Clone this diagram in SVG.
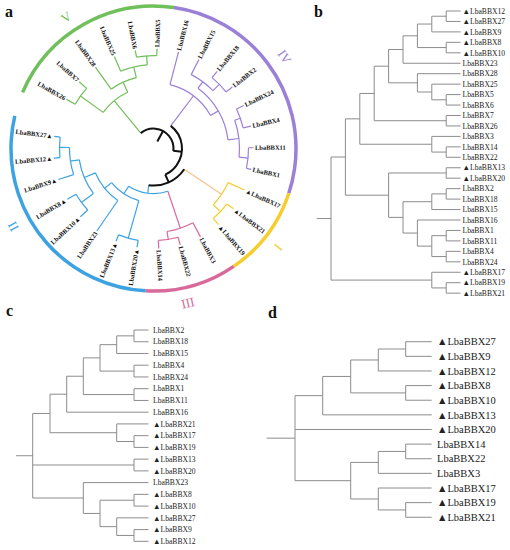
<svg xmlns="http://www.w3.org/2000/svg" width="510" height="550" viewBox="0 0 510 550">
<style>
.br{fill:none;stroke-width:1.2}
.gr{stroke:#6fbf5a}.pu{stroke:#9b80d8}.ye{stroke:#f6cd2b}.pe{stroke:#f9c28c}.pk{stroke:#d9699a}.bl{stroke:#3da2e2}.bk{stroke:#111;stroke-width:2}
.ring{fill:none;stroke-width:3.5}
.al{font-family:"Liberation Serif","DejaVu Serif",serif;font-weight:bold;font-size:6.5px;fill:#111}
.num{font-family:"Liberation Serif","DejaVu Serif",serif;font-size:13px;text-anchor:middle}
.pl{font-family:"Liberation Serif","DejaVu Serif",serif;font-weight:bold;font-size:16px;fill:#111}
.rt{fill:none;stroke:#8c8c8c;stroke-width:1}
.lb{font-family:"Liberation Serif","DejaVu Serif",serif;font-size:7.6px;fill:#222}
.ld{font-family:"Liberation Serif","DejaVu Serif",serif;font-size:10.5px;fill:#222}
</style>
<rect width="510" height="550" fill="#fff"/>
<g id="panel-letters">
<text class="pl" x="5" y="17">a</text>
<text class="pl" x="314" y="17">b</text>
<text class="pl" x="6" y="316">c</text>
<text class="pl" x="268" y="318">d</text>
</g>
<g id="panel-a" transform="translate(153.5,148.6)">
<g id="a-rings">
<circle class="ring" r="142.5" stroke="#6fbf5a" stroke-dasharray="186.53 2000" transform="rotate(-156.75)"/>
<circle class="ring" r="142.5" stroke="#9b80d8" stroke-dasharray="248.71 2000" transform="rotate(-81.75)"/>
<circle class="ring" r="142.5" stroke="#f6cd2b" stroke-dasharray="93.27 2000" transform="rotate(18.25)"/>
<circle class="ring" r="142.5" stroke="#d9699a" stroke-dasharray="93.27 2000" transform="rotate(55.75)"/>
<circle class="ring" r="142.5" stroke="#3da2e2" stroke-dasharray="248.71 2000" transform="rotate(93.25)"/>
</g>
<g id="a-clade-labels">
<text class="num" fill="#6fbf5a" dy="0.35em" transform="rotate(-123.6) translate(158 0) rotate(90)">V</text>
<text class="num" fill="#9b80d8" dy="0.35em" transform="rotate(-35) translate(160 0) rotate(90)">IV</text>
<text class="num" fill="#f6cd2b" dy="0.35em" transform="rotate(38.3) translate(158.7 0) rotate(-90)">I</text>
<text class="num" fill="#d9699a" dy="0.35em" transform="rotate(77.4) translate(158 0) rotate(-90)">III</text>
<text class="num" fill="#3da2e2" dy="0.35em" transform="rotate(151) translate(160 0) rotate(-90)">II</text>
</g>
<g id="a-connectors">
<g class="br gr">
<path d="M93 0H100" transform="rotate(-88)"/>
<path d="M93 0H100" transform="rotate(-100.5)"/>
<path d="M84 0H93" transform="rotate(-94.25)"/>
<path d="M84 0H100" transform="rotate(-113)"/>
<path d="M73 0H84" transform="rotate(-103.625)"/>
<path d="M73 0H100" transform="rotate(-125.5)"/>
<path d="M62 0H73" transform="rotate(-114.5625)"/>
<path d="M90 0H100" transform="rotate(-138)"/>
<path d="M90 0H100" transform="rotate(-150.5)"/>
<path d="M62 0H90" transform="rotate(-144.25)"/>
<path d="M20 0H62" transform="rotate(-129.41)"/>
<circle r="93" stroke-dasharray="20.29 2000" transform="rotate(-100.5)"/>
<circle r="84" stroke-dasharray="27.49 2000" transform="rotate(-113)"/>
<circle r="73" stroke-dasharray="27.87 2000" transform="rotate(-125.5)"/>
<circle r="90" stroke-dasharray="19.63 2000" transform="rotate(-150.5)"/>
<circle r="62" stroke-dasharray="32.12 2000" transform="rotate(-144.25)"/>
</g>
<g class="br pu">
<path d="M92 0H100" transform="rotate(-38)"/>
<path d="M92 0H100" transform="rotate(-50.5)"/>
<path d="M83 0H92" transform="rotate(-44.25)"/>
<path d="M83 0H100" transform="rotate(-63)"/>
<path d="M75 0H83" transform="rotate(-53.625)"/>
<path d="M92 0H100" transform="rotate(-13)"/>
<path d="M92 0H100" transform="rotate(-25.5)"/>
<path d="M86 0H92" transform="rotate(-19.25)"/>
<path d="M95 0H100" transform="rotate(12)"/>
<path d="M95 0H100" transform="rotate(-0.5)"/>
<path d="M86 0H95" transform="rotate(5.75)"/>
<path d="M75 0H86" transform="rotate(-6.75)"/>
<path d="M66 0H75" transform="rotate(-30.1875)"/>
<path d="M66 0H100" transform="rotate(-75.5)"/>
<path d="M28.5 0H66" transform="rotate(-52.84)"/>
<circle r="92" stroke-dasharray="20.07 2000" transform="rotate(-50.5)"/>
<circle r="83" stroke-dasharray="27.16 2000" transform="rotate(-63)"/>
<circle r="92" stroke-dasharray="20.07 2000" transform="rotate(-25.5)"/>
<circle r="95" stroke-dasharray="20.73 2000" transform="rotate(-0.5)"/>
<circle r="86" stroke-dasharray="37.52 2000" transform="rotate(-19.25)"/>
<circle r="75" stroke-dasharray="61.36 2000" transform="rotate(-53.625)"/>
<circle r="66" stroke-dasharray="52.20 2000" transform="rotate(-75.5)"/>
</g>
<g class="br ye">
<path d="M92 0H100" transform="rotate(49.5)"/>
<path d="M92 0H100" transform="rotate(37)"/>
<path d="M82 0H92" transform="rotate(43.25)"/>
<path d="M82 0H100" transform="rotate(24.5)"/>
<circle r="92" stroke-dasharray="20.07 2000" transform="rotate(37)"/>
<circle r="82" stroke-dasharray="26.83 2000" transform="rotate(24.5)"/>
</g>
<path class="br pe" d="M37 0H82" transform="rotate(33.875)"/>
<g class="br pk">
<path d="M92 0H100" transform="rotate(87)"/>
<path d="M92 0H100" transform="rotate(74.5)"/>
<path d="M84 0H92" transform="rotate(80.75)"/>
<path d="M84 0H100" transform="rotate(62)"/>
<path d="M45 0H84" transform="rotate(71.375)"/>
<circle r="92" stroke-dasharray="20.07 2000" transform="rotate(74.5)"/>
<circle r="84" stroke-dasharray="27.49 2000" transform="rotate(62)"/>
</g>
<g class="br bl">
<path d="M94 0H100" transform="rotate(187)"/>
<path d="M94 0H100" transform="rotate(174.5)"/>
<path d="M84 0H94" transform="rotate(180.75)"/>
<path d="M84 0H100" transform="rotate(162)"/>
<path d="M75 0H84" transform="rotate(171.375)"/>
<path d="M90 0H100" transform="rotate(149.5)"/>
<path d="M90 0H100" transform="rotate(137)"/>
<path d="M75 0H90" transform="rotate(143.25)"/>
<path d="M63 0H75" transform="rotate(157.3125)"/>
<path d="M63 0H100" transform="rotate(124.5)"/>
<path d="M54 0H63" transform="rotate(140.906)"/>
<path d="M93 0H100" transform="rotate(112)"/>
<path d="M93 0H100" transform="rotate(99.5)"/>
<path d="M54 0H93" transform="rotate(105.75)"/>
<path d="M45 0H54" transform="rotate(123.328)"/>
<path d="M37 0H45" transform="rotate(97.35)"/>
<circle r="94" stroke-dasharray="20.51 2000" transform="rotate(174.5)"/>
<circle r="84" stroke-dasharray="27.49 2000" transform="rotate(162)"/>
<circle r="90" stroke-dasharray="19.63 2000" transform="rotate(137)"/>
<circle r="75" stroke-dasharray="36.82 2000" transform="rotate(143.25)"/>
<circle r="63" stroke-dasharray="36.08 2000" transform="rotate(124.5)"/>
<circle r="93" stroke-dasharray="20.29 2000" transform="rotate(99.5)"/>
<circle r="54" stroke-dasharray="33.13 2000" transform="rotate(105.75)"/>
<circle r="45" stroke-dasharray="40.80 2000" transform="rotate(71.375)"/>
</g>
<g class="br bk">
<path d="M28.5 0H37" transform="rotate(65.61)"/>
<path d="M20 0H28.5" transform="rotate(6.385)"/>
<path d="M8 0H20" transform="rotate(-61.51)"/>
<circle r="37" stroke-dasharray="40.99 2000" transform="rotate(33.875)"/>
<circle r="28.5" stroke-dasharray="58.92 2000" transform="rotate(-52.84)"/>
<circle r="20" stroke-dasharray="47.40 2000" transform="rotate(-129.41)"/>
</g>
</g>
<g id="a-leaves">
<g id="a-LbaBBX14"><text class="al" dy="2.2" transform="rotate(87) translate(101.5 0)">LbaBBX14</text></g>
<g id="a-LbaBBX22"><text class="al" dy="2.2" transform="rotate(74.5) translate(101.5 0)">LbaBBX22</text></g>
<g id="a-LbaBBX3"><text class="al" dy="2.2" transform="rotate(62) translate(101.5 0)">LbaBBX3</text></g>
<g id="a-LbaBBX19"><text class="al" dy="2.2" transform="rotate(49.5) translate(101.5 0)">▲LbaBBX19</text></g>
<g id="a-LbaBBX21"><text class="al" dy="2.2" transform="rotate(37) translate(101.5 0)">▲LbaBBX21</text></g>
<g id="a-LbaBBX17"><text class="al" dy="2.2" transform="rotate(24.5) translate(101.5 0)">▲LbaBBX17</text></g>
<g id="a-LbaBBX1"><text class="al" dy="2.2" transform="rotate(12) translate(101.5 0)">LbaBBX1</text></g>
<g id="a-LbaBBX11"><text class="al" dy="2.2" transform="rotate(-0.5) translate(101.5 0)">LbaBBX11</text></g>
<g id="a-LbaBBX4"><text class="al" dy="2.2" transform="rotate(-13) translate(101.5 0)">LbaBBX4</text></g>
<g id="a-LbaBBX24"><text class="al" dy="2.2" transform="rotate(-25.5) translate(101.5 0)">LbaBBX24</text></g>
<g id="a-LbaBBX2"><text class="al" dy="2.2" transform="rotate(-38) translate(101.5 0)">LbaBBX2</text></g>
<g id="a-LbaBBX18"><text class="al" dy="2.2" transform="rotate(-50.5) translate(101.5 0)">LbaBBX18</text></g>
<g id="a-LbaBBX15"><text class="al" dy="2.2" transform="rotate(-63) translate(101.5 0)">LbaBBX15</text></g>
<g id="a-LbaBBX16"><text class="al" dy="2.2" transform="rotate(-75.5) translate(101.5 0)">LbaBBX16</text></g>
<g id="a-LbaBBX5"><text class="al" dy="2.2" transform="rotate(-88) translate(101.5 0)">LbaBBX5</text></g>
<g id="a-LbaBBX6"><text class="al" dy="2.2" text-anchor="end" transform="rotate(-100.5) translate(101.5 0) rotate(180)">LbaBBX6</text></g>
<g id="a-LbaBBX25"><text class="al" dy="2.2" text-anchor="end" transform="rotate(-113) translate(101.5 0) rotate(180)">LbaBBX25</text></g>
<g id="a-LbaBBX28"><text class="al" dy="2.2" text-anchor="end" transform="rotate(-125.5) translate(101.5 0) rotate(180)">LbaBBX28</text></g>
<g id="a-LbaBBX7"><text class="al" dy="2.2" text-anchor="end" transform="rotate(-138) translate(101.5 0) rotate(180)">LbaBBX7</text></g>
<g id="a-LbaBBX26"><text class="al" dy="2.2" text-anchor="end" transform="rotate(-150.5) translate(101.5 0) rotate(180)">LbaBBX26</text></g>
<g id="a-LbaBBX27"><text class="al" dy="2.2" text-anchor="end" transform="rotate(187) translate(101.5 0) rotate(180)">LbaBBX27▲</text></g>
<g id="a-LbaBBX12"><text class="al" dy="2.2" text-anchor="end" transform="rotate(174.5) translate(101.5 0) rotate(180)">LbaBBX12▲</text></g>
<g id="a-LbaBBX9"><text class="al" dy="2.2" text-anchor="end" transform="rotate(162) translate(101.5 0) rotate(180)">LbaBBX9▲</text></g>
<g id="a-LbaBBX8"><text class="al" dy="2.2" text-anchor="end" transform="rotate(149.5) translate(101.5 0) rotate(180)">LbaBBX8▲</text></g>
<g id="a-LbaBBX10"><text class="al" dy="2.2" text-anchor="end" transform="rotate(137) translate(101.5 0) rotate(180)">LbaBBX10▲</text></g>
<g id="a-LbaBBX23"><text class="al" dy="2.2" text-anchor="end" transform="rotate(124.5) translate(101.5 0) rotate(180)">LbaBBX23</text></g>
<g id="a-LbaBBX13"><text class="al" dy="2.2" text-anchor="end" transform="rotate(112) translate(101.5 0) rotate(180)">LbaBBX13▲</text></g>
<g id="a-LbaBBX20"><text class="al" dy="2.2" text-anchor="end" transform="rotate(99.5) translate(101.5 0) rotate(180)">LbaBBX20▲</text></g>
</g>
</g>
<g id="b-connectors">
<path class="rt" d="M446.2 11H460.6M446.2 21.45H460.6M431.8 31.9H460.6M446.2 42.35H460.6M446.2 52.8H460.6M403 63.25H460.6M417.4 73.7H460.6M431.8 84.15H460.6M446.2 94.6H460.6M446.2 105.05H460.6M446.2 115.5H460.6M446.2 125.95H460.6M431.8 136.4H460.6M446.2 146.85H460.6M446.2 157.3H460.6M446.2 167.75H460.6M446.2 178.2H460.6M446.2 188.65H460.6M446.2 199.1H460.6M431.8 209.55H460.6M417.4 220H460.6M446.2 230.45H460.6M446.2 240.9H460.6M446.2 251.35H460.6M446.2 261.8H460.6M431.8 272.25H460.6M446.2 282.7H460.6M446.2 293.15H460.6"/>
<path class="rt" d="M446.2 11V21.45M431.8 16.225H446.2M431.8 16.225V31.9M417.4 24.06H431.8M446.2 42.35V52.8M417.4 47.575H446.2M417.4 24.06V47.575M403 35.82H417.4M403 35.82V63.25M388.6 49.53H403M446.2 94.6V105.05M431.8 99.825H446.2M431.8 84.15V99.825M417.4 91.99H431.8M417.4 73.7V91.99M388.6 82.84H417.4M388.6 49.53V82.84M374.2 66.19H388.6M446.2 115.5V125.95M374.2 120.725H446.2M374.2 66.19V120.725M359.8 93.46H374.2M446.2 146.85V157.3M431.8 152.075H446.2M431.8 136.4V152.075M359.8 144.24H431.8M359.8 93.46V144.24M345.4 118.85H359.8M446.2 167.75V178.2M388.6 172.975H446.2M446.2 188.65V199.1M431.8 193.875H446.2M431.8 193.875V209.55M403 201.71H431.8M446.2 230.45V240.9M431.8 235.675H446.2M446.2 251.35V261.8M431.8 256.575H446.2M431.8 235.675V256.575M417.4 246.125H431.8M417.4 220V246.125M403 233.06H417.4M403 201.71V233.06M388.6 217.39H403M388.6 172.975V217.39M345.4 195.18H388.6M345.4 118.85V195.18M331 157.02H345.4M446.2 282.7V293.15M431.8 287.925H446.2M431.8 272.25V287.925M331 280.09H431.8M331 157.02V280.09M316.7 218.55H331"/>
</g>
<g id="b-leaves">
<g id="b-LbaBBX12"><text class="lb" x="462.5" y="13.7">▲LbaBBX12</text></g>
<g id="b-LbaBBX27"><text class="lb" x="462.5" y="24.15">▲LbaBBX27</text></g>
<g id="b-LbaBBX9"><text class="lb" x="462.5" y="34.6">▲LbaBBX9</text></g>
<g id="b-LbaBBX8"><text class="lb" x="462.5" y="45.05">▲LbaBBX8</text></g>
<g id="b-LbaBBX10"><text class="lb" x="462.5" y="55.5">▲LbaBBX10</text></g>
<g id="b-LbaBBX23"><text class="lb" x="462.5" y="65.95">LbaBBX23</text></g>
<g id="b-LbaBBX28"><text class="lb" x="462.5" y="76.4">LbaBBX28</text></g>
<g id="b-LbaBBX25"><text class="lb" x="462.5" y="86.85">LbaBBX25</text></g>
<g id="b-LbaBBX5"><text class="lb" x="462.5" y="97.3">LbaBBX5</text></g>
<g id="b-LbaBBX6"><text class="lb" x="462.5" y="107.75">LbaBBX6</text></g>
<g id="b-LbaBBX7"><text class="lb" x="462.5" y="118.2">LbaBBX7</text></g>
<g id="b-LbaBBX26"><text class="lb" x="462.5" y="128.65">LbaBBX26</text></g>
<g id="b-LbaBBX3"><text class="lb" x="462.5" y="139.1">LbaBBX3</text></g>
<g id="b-LbaBBX14"><text class="lb" x="462.5" y="149.55">LbaBBX14</text></g>
<g id="b-LbaBBX22"><text class="lb" x="462.5" y="160">LbaBBX22</text></g>
<g id="b-LbaBBX13"><text class="lb" x="462.5" y="170.45">▲LbaBBX13</text></g>
<g id="b-LbaBBX20"><text class="lb" x="462.5" y="180.9">▲LbaBBX20</text></g>
<g id="b-LbaBBX2"><text class="lb" x="462.5" y="191.35">LbaBBX2</text></g>
<g id="b-LbaBBX18"><text class="lb" x="462.5" y="201.8">LbaBBX18</text></g>
<g id="b-LbaBBX15"><text class="lb" x="462.5" y="212.25">LbaBBX15</text></g>
<g id="b-LbaBBX16"><text class="lb" x="462.5" y="222.7">LbaBBX16</text></g>
<g id="b-LbaBBX1"><text class="lb" x="462.5" y="233.15">LbaBBX1</text></g>
<g id="b-LbaBBX11"><text class="lb" x="462.5" y="243.6">LbaBBX11</text></g>
<g id="b-LbaBBX4"><text class="lb" x="462.5" y="254.05">LbaBBX4</text></g>
<g id="b-LbaBBX24"><text class="lb" x="462.5" y="264.5">LbaBBX24</text></g>
<g id="b-LbaBBX17"><text class="lb" x="462.5" y="274.95">▲LbaBBX17</text></g>
<g id="b-LbaBBX19"><text class="lb" x="462.5" y="285.4">▲LbaBBX19</text></g>
<g id="b-LbaBBX21"><text class="lb" x="462.5" y="295.85">▲LbaBBX21</text></g>
</g>
<g id="c-connectors">
<path class="rt" d="M134 330H148.5M134 341.74H148.5M116.7 353.48H148.5M134 365.22H148.5M134 376.96H148.5M134 388.7H148.5M134 400.44H148.5M66.7 412.18H148.5M116.7 423.92H148.5M134 435.66H148.5M134 447.4H148.5M134 459.14H148.5M134 470.88H148.5M83.3 482.62H148.5M134 494.36H148.5M134 506.1H148.5M116.7 517.84H148.5M134 529.58H148.5M134 541.32H148.5"/>
<path class="rt" d="M134 330V341.74M116.7 335.87H134M116.7 335.87V353.48M100 344.675H116.7M134 365.22V376.96M100 371.09H134M100 344.675V371.09M83.3 357.88H100M134 388.7V400.44M83.3 394.57H134M83.3 357.88V394.57M66.7 376.23H83.3M66.7 376.23V412.18M50 394.2H66.7M134 435.66V447.4M116.7 441.53H134M116.7 423.92V441.53M50 432.725H116.7M50 394.2V432.725M32.7 413.46H50M134 459.14V470.88M32.7 465.01H134M134 494.36V506.1M100 500.23H134M134 529.58V541.32M116.7 535.45H134M116.7 517.84V535.45M100 526.645H116.7M100 500.23V526.645M83.3 513.44H100M83.3 482.62V513.44M32.7 498.03H83.3M32.7 413.46V498.03M16 455.745H32.7"/>
</g>
<g id="c-leaves">
<g id="c-LbaBBX2"><text class="lb" x="153" y="332.7">LbaBBX2</text></g>
<g id="c-LbaBBX18"><text class="lb" x="153" y="344.44">LbaBBX18</text></g>
<g id="c-LbaBBX15"><text class="lb" x="153" y="356.18">LbaBBX15</text></g>
<g id="c-LbaBBX4"><text class="lb" x="153" y="367.92">LbaBBX4</text></g>
<g id="c-LbaBBX24"><text class="lb" x="153" y="379.66">LbaBBX24</text></g>
<g id="c-LbaBBX1"><text class="lb" x="153" y="391.4">LbaBBX1</text></g>
<g id="c-LbaBBX11"><text class="lb" x="153" y="403.14">LbaBBX11</text></g>
<g id="c-LbaBBX16"><text class="lb" x="153" y="414.88">LbaBBX16</text></g>
<g id="c-LbaBBX21"><text class="lb" x="153" y="426.62">▲LbaBBX21</text></g>
<g id="c-LbaBBX17"><text class="lb" x="153" y="438.36">▲LbaBBX17</text></g>
<g id="c-LbaBBX19"><text class="lb" x="153" y="450.1">▲LbaBBX19</text></g>
<g id="c-LbaBBX13"><text class="lb" x="153" y="461.84">▲LbaBBX13</text></g>
<g id="c-LbaBBX20"><text class="lb" x="153" y="473.58">▲LbaBBX20</text></g>
<g id="c-LbaBBX23"><text class="lb" x="153" y="485.32">LbaBBX23</text></g>
<g id="c-LbaBBX8"><text class="lb" x="153" y="497.06">▲LbaBBX8</text></g>
<g id="c-LbaBBX10"><text class="lb" x="153" y="508.8">▲LbaBBX10</text></g>
<g id="c-LbaBBX27"><text class="lb" x="153" y="520.54">▲LbaBBX27</text></g>
<g id="c-LbaBBX9"><text class="lb" x="153" y="532.28">▲LbaBBX9</text></g>
<g id="c-LbaBBX12"><text class="lb" x="153" y="544.02">▲LbaBBX12</text></g>
</g>
<g id="d-connectors">
<path class="rt" d="M405.7 341.7H431.7M405.7 356.33H431.7M378.3 370.96H431.7M405.7 385.59H431.7M405.7 400.22H431.7M322.7 414.85H431.7M295 429.48H431.7M405.7 444.11H431.7M405.7 458.74H431.7M378.3 473.37H431.7M378.3 488H431.7M405.7 502.63H431.7M405.7 517.26H431.7"/>
<path class="rt" d="M405.7 341.7V356.33M378.3 349.015H405.7M378.3 349.015V370.96M350.7 359.99H378.3M405.7 385.59V400.22M350.7 392.905H405.7M350.7 359.99V392.905M322.7 376.45H350.7M322.7 376.45V414.85M295 395.65H322.7M405.7 444.11V458.74M378.3 451.425H405.7M378.3 451.425V473.37M350.7 462.4H378.3M405.7 502.63V517.26M378.3 509.945H405.7M378.3 488V509.945M350.7 498.97H378.3M350.7 462.4V498.97M295 480.685H350.7M295 395.65V480.685M266.7 438.17H295"/>
</g>
<g id="d-leaves">
<g id="d-LbaBBX27"><text class="ld" x="437" y="345.4">▲LbaBBX27</text></g>
<g id="d-LbaBBX9"><text class="ld" x="437" y="360.03">▲LbaBBX9</text></g>
<g id="d-LbaBBX12"><text class="ld" x="437" y="374.66">▲LbaBBX12</text></g>
<g id="d-LbaBBX8"><text class="ld" x="437" y="389.29">▲LbaBBX8</text></g>
<g id="d-LbaBBX10"><text class="ld" x="437" y="403.92">▲LbaBBX10</text></g>
<g id="d-LbaBBX13"><text class="ld" x="437" y="418.55">▲LbaBBX13</text></g>
<g id="d-LbaBBX20"><text class="ld" x="437" y="433.18">▲LbaBBX20</text></g>
<g id="d-LbaBBX14"><text class="ld" x="437" y="447.81">LbaBBX14</text></g>
<g id="d-LbaBBX22"><text class="ld" x="437" y="462.44">LbaBBX22</text></g>
<g id="d-LbaBBX3"><text class="ld" x="437" y="477.07">LbaBBX3</text></g>
<g id="d-LbaBBX17"><text class="ld" x="437" y="491.7">▲LbaBBX17</text></g>
<g id="d-LbaBBX19"><text class="ld" x="437" y="506.33">▲LbaBBX19</text></g>
<g id="d-LbaBBX21"><text class="ld" x="437" y="520.96">▲LbaBBX21</text></g>
</g>
</svg>
